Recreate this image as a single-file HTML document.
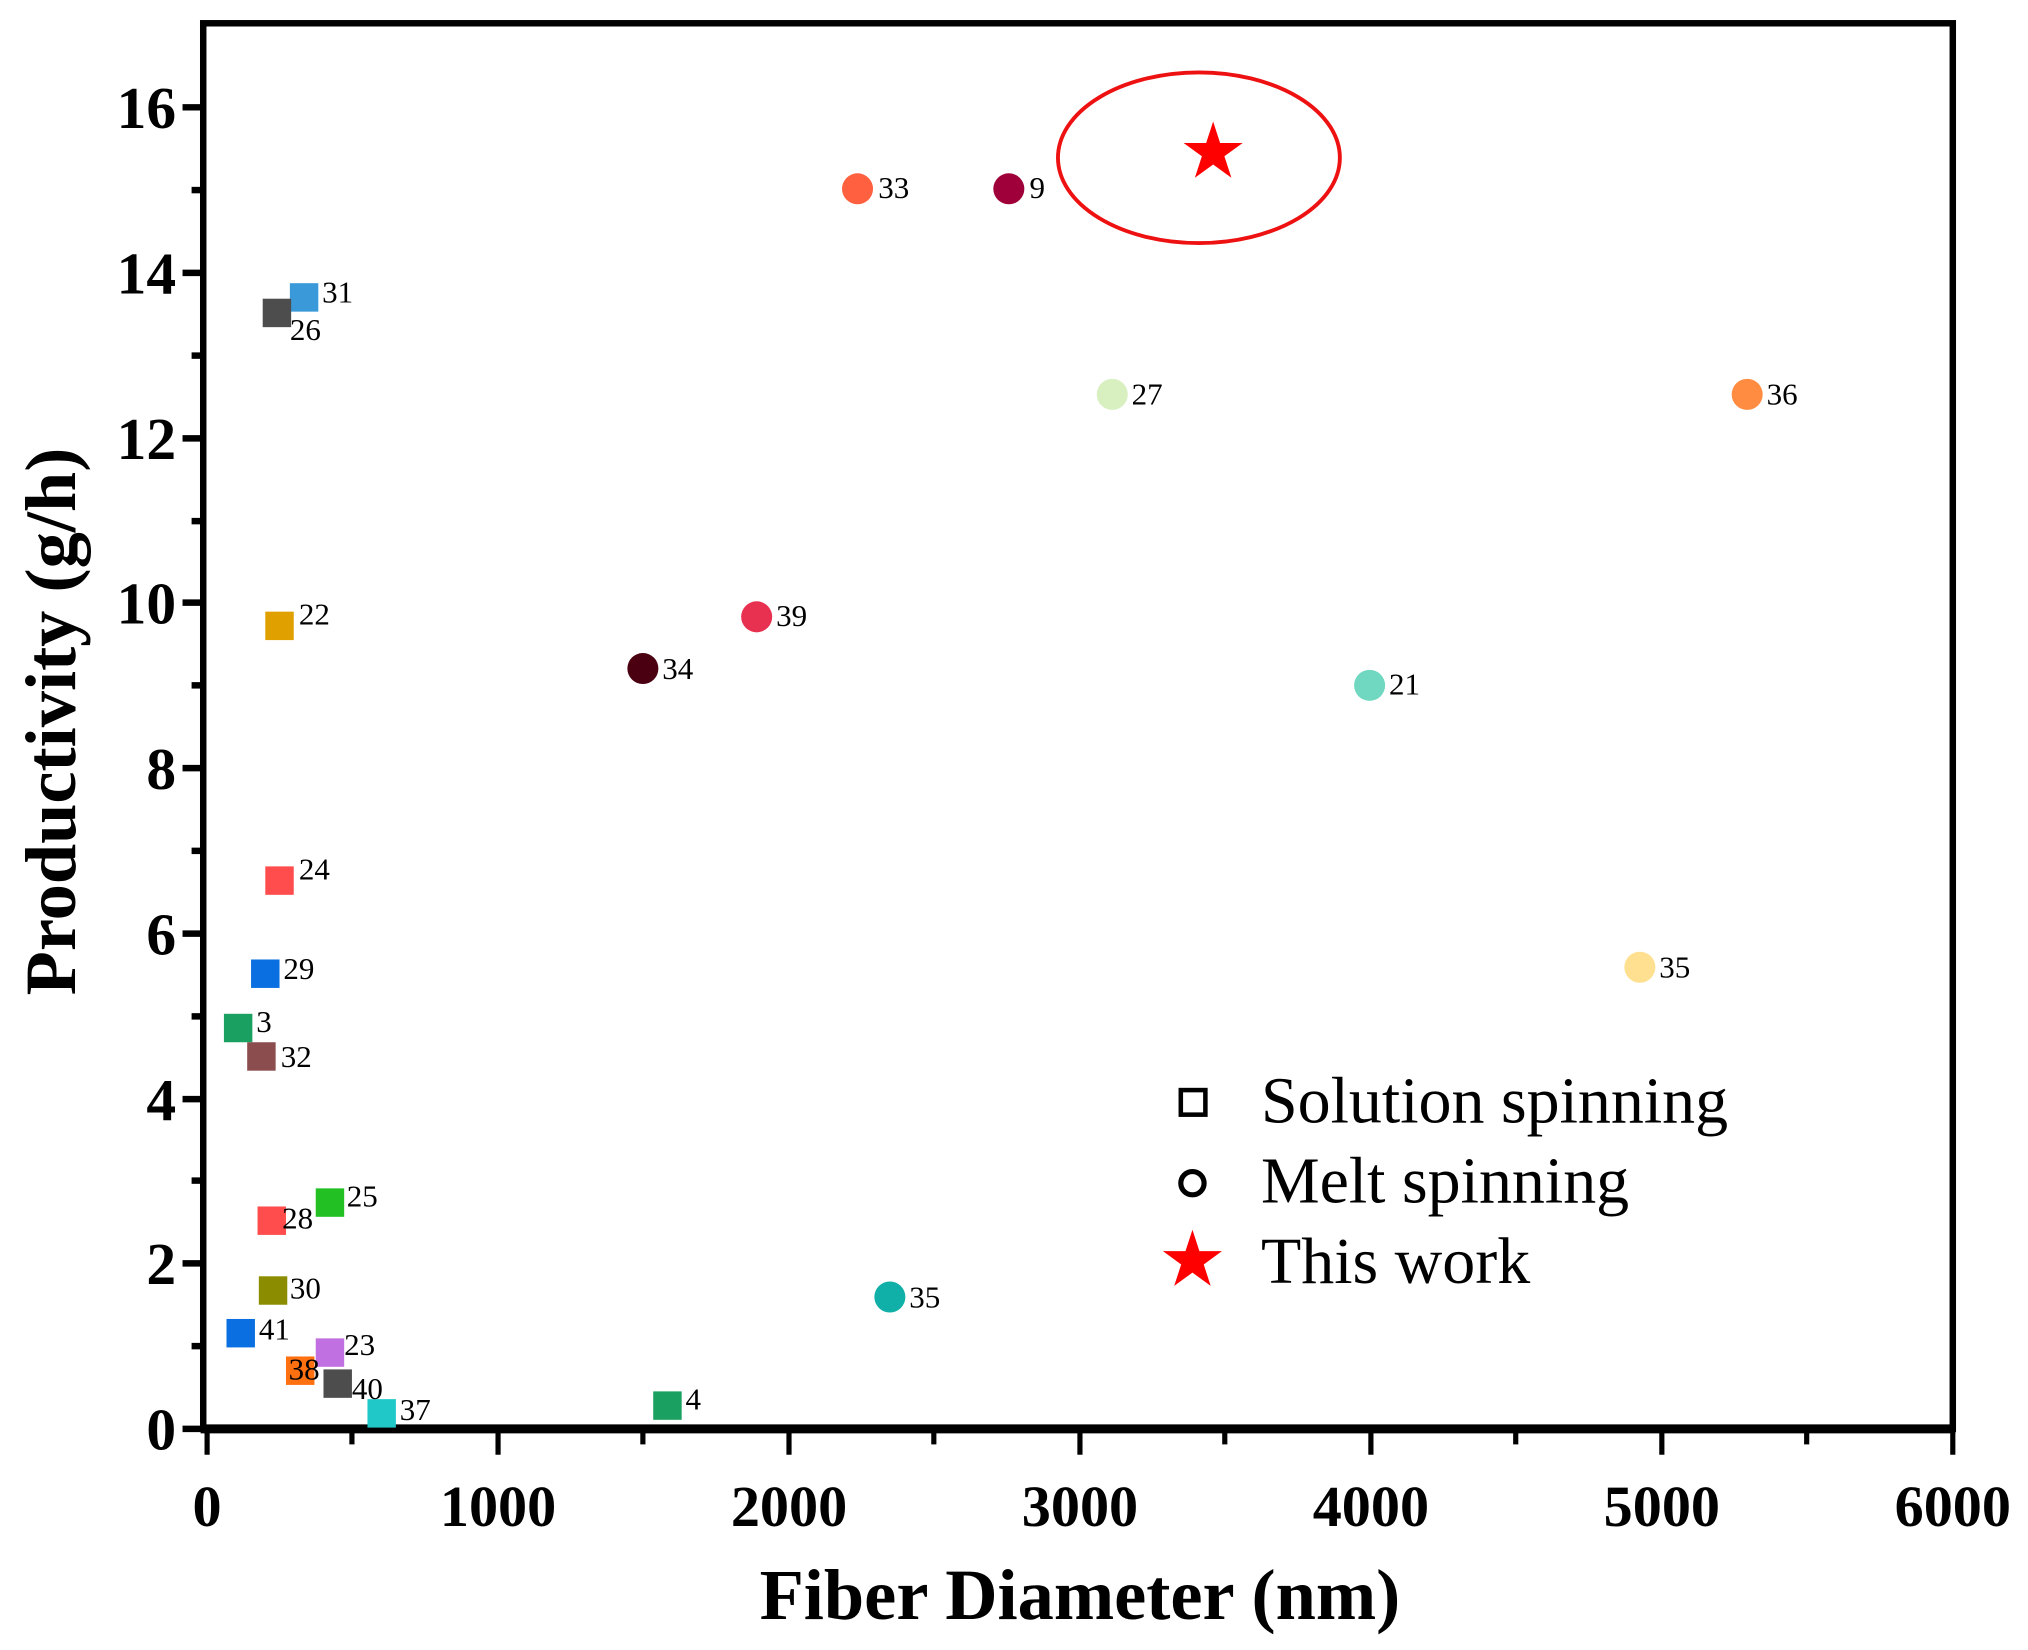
<!DOCTYPE html>
<html><head><meta charset="utf-8"><style>html,body{margin:0;padding:0;background:#fff}svg{display:block}</style></head>
<body>
<svg width="2028" height="1650" viewBox="0 0 1568 1276" xmlns="http://www.w3.org/2000/svg">
<defs><path id="st" d="M0,-1 L0.2245,-0.309 L0.951,-0.309 L0.363,0.118 L0.588,0.809 L0,0.382 L-0.588,0.809 L-0.363,0.118 L-0.951,-0.309 L-0.2245,-0.309Z"/></defs>
<rect x="0" y="0" width="1568" height="1276" fill="#fff"/>
<rect x="157" y="18" width="1353" height="1087" fill="none" stroke="#000" stroke-width="5"/>
<line x1="155" y1="1105" x2="1512" y2="1105" stroke="#000" stroke-width="7"/>
<g stroke="#000" stroke-width="5">
<line x1="141" y1="1105" x2="157" y2="1105"/><line x1="148" y1="1041" x2="157" y2="1041"/>
<line x1="141" y1="977" x2="157" y2="977"/><line x1="148" y1="913" x2="157" y2="913"/>
<line x1="141" y1="850" x2="157" y2="850"/><line x1="148" y1="786" x2="157" y2="786"/>
<line x1="141" y1="722" x2="157" y2="722"/><line x1="148" y1="658" x2="157" y2="658"/>
<line x1="141" y1="594" x2="157" y2="594"/><line x1="148" y1="530" x2="157" y2="530"/>
<line x1="141" y1="466" x2="157" y2="466"/><line x1="148" y1="403" x2="157" y2="403"/>
<line x1="141" y1="339" x2="157" y2="339"/><line x1="148" y1="275" x2="157" y2="275"/>
<line x1="141" y1="211" x2="157" y2="211"/><line x1="148" y1="147" x2="157" y2="147"/>
<line x1="141" y1="83" x2="157" y2="83"/>
</g>
<g stroke="#000" stroke-width="4">
<line x1="160" y1="1105" x2="160" y2="1125"/><line x1="272" y1="1105" x2="272" y2="1117"/>
<line x1="385" y1="1105" x2="385" y2="1125"/><line x1="497" y1="1105" x2="497" y2="1117"/>
<line x1="610" y1="1105" x2="610" y2="1125"/><line x1="722" y1="1105" x2="722" y2="1117"/>
<line x1="835" y1="1105" x2="835" y2="1125"/><line x1="947" y1="1105" x2="947" y2="1117"/>
<line x1="1060" y1="1105" x2="1060" y2="1125"/><line x1="1172" y1="1105" x2="1172" y2="1117"/>
<line x1="1285" y1="1105" x2="1285" y2="1125"/><line x1="1397" y1="1105" x2="1397" y2="1117"/>
<line x1="1510" y1="1105" x2="1510" y2="1125"/>
</g>
<g font-family="Liberation Serif, serif" font-weight="bold" font-size="46" fill="#000">
<g text-anchor="end">
<text x="136" y="1121">0</text><text x="136" y="993">2</text><text x="136" y="866">4</text>
<text x="136" y="738">6</text><text x="136" y="610">8</text><text x="136" y="482">10</text>
<text x="136" y="355">12</text><text x="136" y="227">14</text><text x="136" y="99">16</text>
</g>
<g text-anchor="middle" font-size="45">
<text x="160" y="1180">0</text><text x="385" y="1180">1000</text><text x="610" y="1180">2000</text>
<text x="835" y="1180">3000</text><text x="1060" y="1180">4000</text><text x="1285" y="1180">5000</text>
<text x="1510" y="1180">6000</text>
</g>
<text x="835" y="1252" text-anchor="middle" font-size="56">Fiber Diameter (nm)</text>
<text transform="translate(58,558) rotate(-90)" text-anchor="middle" font-size="56">Productivity (g/h)</text>
</g>
<g>
<rect x="224" y="219" width="22" height="22" fill="#3a9ad9"/>
<rect x="203" y="231" width="22" height="22" fill="#4d4d4d"/>
<rect x="205" y="473" width="22" height="22" fill="#e0a000"/>
<rect x="205" y="670" width="22" height="22" fill="#ff4d4d"/>
<rect x="194" y="742" width="22" height="22" fill="#0a6fe0"/>
<rect x="173" y="784" width="22" height="22" fill="#1aa060"/>
<rect x="191" y="806" width="22" height="22" fill="#8b4d4d"/>
<rect x="244" y="919" width="22" height="22" fill="#22c022"/>
<rect x="199" y="933" width="22" height="22" fill="#ff4d4d"/>
<rect x="200" y="987" width="22" height="22" fill="#8c8c00"/>
<rect x="175" y="1020" width="22" height="22" fill="#0a6fe0"/>
<rect x="244" y="1035" width="22" height="22" fill="#c070e0"/>
<rect x="221" y="1049" width="22" height="22" fill="#ff7010"/>
<rect x="250" y="1059" width="22" height="22" fill="#4d4d4d"/>
<rect x="284" y="1082" width="22" height="22" fill="#20c8c8"/>
<rect x="505" y="1076" width="22" height="22" fill="#1aa060"/>
</g>
<g>
<circle cx="663" cy="146" r="12" fill="#ff6040"/>
<circle cx="780" cy="146" r="12" fill="#a0003a"/>
<circle cx="860" cy="305" r="12" fill="#d8f0c0"/>
<circle cx="1351" cy="305" r="12" fill="#ff8c40"/>
<circle cx="585" cy="477" r="12" fill="#e83050"/>
<circle cx="497" cy="517" r="12" fill="#4a0010"/>
<circle cx="1059" cy="530" r="12" fill="#70d8c0"/>
<circle cx="1268" cy="748" r="12" fill="#ffe090"/>
<circle cx="688" cy="1003" r="12" fill="#10b0a8"/>
</g>
<use href="#st" transform="translate(938,118) scale(24)" fill="#ff0000"/>
<ellipse cx="927" cy="122" rx="109" ry="66" fill="none" stroke="#ee1111" stroke-width="3"/>
<g font-family="Liberation Serif, serif" font-size="24" fill="#000">
<text x="249" y="234">31</text><text x="224" y="263">26</text><text x="231" y="483">22</text>
<text x="231" y="680">24</text><text x="219" y="757">29</text><text x="198" y="798">3</text>
<text x="217" y="825">32</text><text x="268" y="933">25</text><text x="218" y="950">28</text>
<text x="224" y="1004">30</text><text x="200" y="1036">41</text><text x="266" y="1048">23</text>
<text x="223" y="1067">38</text><text x="272" y="1082">40</text><text x="309" y="1098">37</text>
<text x="530" y="1090">4</text>
<text x="679" y="153">33</text><text x="796" y="153">9</text><text x="875" y="313">27</text>
<text x="1366" y="313">36</text><text x="600" y="484">39</text><text x="512" y="525">34</text>
<text x="1074" y="537">21</text><text x="1283" y="756">35</text><text x="703" y="1011">35</text>
</g>
<rect x="913" y="843" width="19" height="19" fill="none" stroke="#000" stroke-width="3.5"/>
<circle cx="922" cy="915" r="9" fill="none" stroke="#000" stroke-width="4"/>
<use href="#st" transform="translate(922,975) scale(24)" fill="#ff0000"/>
<g font-family="Liberation Serif, serif" font-size="51" fill="#000">
<text x="975" y="868">Solution spinning</text>
<text x="975" y="930">Melt spinning</text>
<text x="975" y="992">This work</text>
</g>
</svg>
</body></html>
